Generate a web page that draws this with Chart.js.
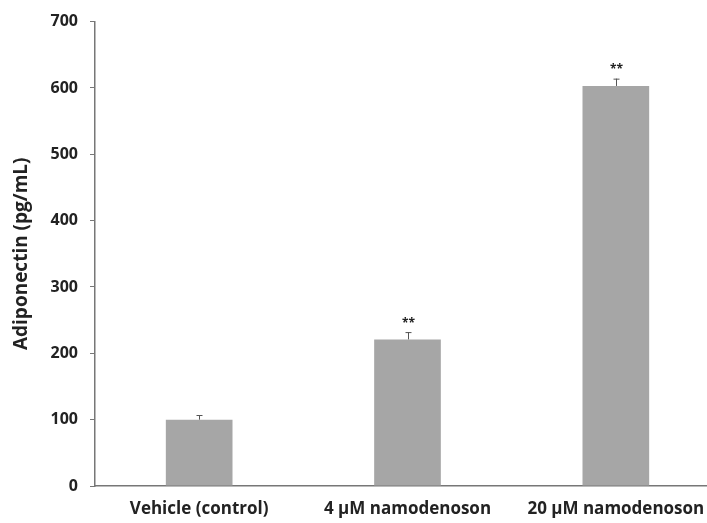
<!DOCTYPE html>
<html>
<head>
<meta charset="utf-8">
<script src="https://cdn.jsdelivr.net/npm/chart.js@4"></script>
<style>
  html, body { margin: 0; padding: 0; background: #fff; overflow: hidden; }
  #wrap { width: 720px; height: 523px; }
</style>
</head>
<body>
<div id="wrap"><canvas id="chart"></canvas></div>
<script>
const categories = ["Vehicle (control)", "4 \u00b5M namodenoson", "20 \u00b5M namodenoson"];
const adiponectin = [100, 221, 603];
const errorUp = [7, 11, 11];
const marks = ["", "**", "**"];
const yTicks = [0, 100, 200, 300, 400, 500, 600, 700];

// draws the upper error whiskers and the significance stars
const errorBars = {
  id: "errorBars",
  afterDatasetsDraw(chart) {
    const ctx = chart.ctx;
    const meta = chart.getDatasetMeta(0);
    const y = chart.scales.y;
    ctx.save();
    meta.data.forEach((bar, i) => {
      const top = y.getPixelForValue(adiponectin[i] + errorUp[i]);
      const x = Math.round(bar.x) + 0.5;
      ctx.strokeStyle = "#555";
      ctx.lineWidth = 1;
      ctx.beginPath();
      ctx.moveTo(x, bar.y);
      ctx.lineTo(x, top);
      ctx.moveTo(x - 3, top + 0.5);
      ctx.lineTo(x + 3, top + 0.5);
      ctx.stroke();
      if (marks[i]) {
        ctx.fillStyle = "#222";
        ctx.font = "bold 12px 'Open Sans'";
        ctx.textAlign = "center";
        ctx.textBaseline = "bottom";
        ctx.fillText(marks[i], x, top - 3);
      }
    });
    ctx.restore();
  }
};

new Chart(document.getElementById("chart"), {
  type: "bar",
  data: {
    labels: categories,
    datasets: [{
      data: adiponectin,
      backgroundColor: "#a6a6a6",
      borderWidth: 0,
      barPercentage: 0.32,
      categoryPercentage: 1
    }]
  },
  options: {
    responsive: true,
    maintainAspectRatio: false,
    animation: false,
    layout: { padding: { top: 21, right: 0, left: 0, bottom: 0 } },
    plugins: { legend: { display: false }, tooltip: { enabled: false } },
    scales: {
      x: {
        offset: true,
        grid: { display: false, drawTicks: false },
        border: { color: "#777", width: 1.5 },
        ticks: {
          color: "#222",
          font: { family: "'Open Sans'", weight: "bold", size: 17 },
          maxRotation: 0,
          padding: 13
        },
        afterFit(scale) { scale.height = 37; }
      },
      y: {
        min: 0,
        max: 700,
        afterBuildTicks(scale) { scale.ticks = yTicks.map(v => ({ value: v })); },
        grid: { drawOnChartArea: false, tickLength: 5, color: "#777" },
        border: { color: "#777", width: 1.5 },
        ticks: {
          color: "#222",
          font: { family: "'Open Sans'", weight: "bold", size: 16 },
          padding: 12
        },
        title: {
          display: true,
          text: "Adiponectin (pg/mL)",
          color: "#222",
          font: { family: "'Open Sans'", weight: "bold", size: 19 },
          padding: { top: 10, bottom: 10 }
        },
        afterFit(scale) { scale.width = 95; }
      }
    }
  },
  plugins: [errorBars]
});
</script>
</body>
</html>
